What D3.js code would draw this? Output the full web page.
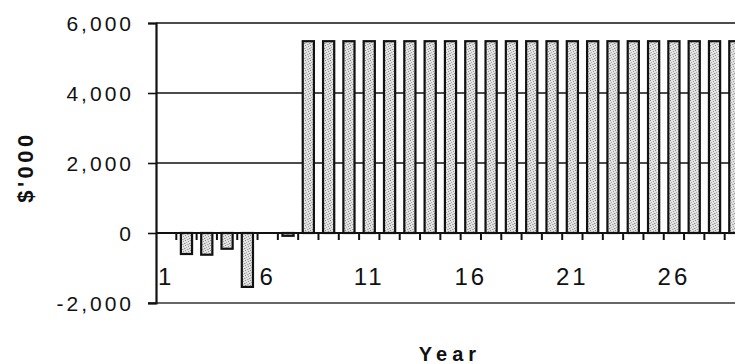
<!DOCTYPE html>
<html>
<head>
<meta charset="utf-8">
<script src="https://cdn.jsdelivr.net/npm/d3@7/dist/d3.min.js"></script>
<style>
  html, body { margin: 0; padding: 0; background: #fff; }
  svg { display: block; }
  text { font-family: "Liberation Sans", Arial, Helvetica, sans-serif; fill: #111; }
</style>
</head>
<body>
<svg id="chart" width="735" height="364"></svg>
<script>
// Annual cash flow by project year ($'000)
const years = [1, 2, 3, 4, 5, 6, 7, 8, 9, 10, 11, 12, 13, 14, 15,
               16, 17, 18, 19, 20, 21, 22, 23, 24, 25, 26, 27, 28, 29];
const cashFlow = [0, -600, -620, -450, -1540, 0, -80,
                  5480, 5480, 5480, 5480, 5480, 5480, 5480, 5480,
                  5480, 5480, 5480, 5480, 5480, 5480, 5480, 5480,
                  5480, 5480, 5480, 5480, 5480, 5480];
const yTicks = [-2000, 0, 2000, 4000, 6000];
const gridValues = [2000, 4000, 6000];
const labelledYears = [1, 6, 11, 16, 21, 26];

const data = years.map((yr, i) => ({ year: yr, value: cashFlow[i] }));

const svg = d3.select("#chart");
const plotLeft = 156, plotRight = 745, plotTop = 23, plotBottom = 303, frameEdge = 735;

const x = d3.scaleBand().domain(years).range([plotLeft, plotRight])
  .paddingInner(0.45).paddingOuter(0.225);
const y = d3.scaleLinear().domain([-2000, 6000]).range([plotBottom, plotTop]);

const fmt = d3.formatLocale({ decimal: ".", thousands: ",", grouping: [3], currency: ["$", ""], minus: "-" }).format(",");

// stippled grey fill for the bars (irregular dot tile)
const defs = svg.append("defs");
const pat = defs.append("pattern").attr("id", "stipple")
  .attr("patternUnits", "userSpaceOnUse").attr("width", 5).attr("height", 5);
pat.append("rect").attr("width", 5).attr("height", 5).attr("fill", "#e2e2e2");
const dots = [[0,0,"#8a8a8a"],[3,1,"#9c9c9c"],[1,2,"#b0b0b0"],[4,3,"#929292"],[2,4,"#a4a4a4"],[0,3,"#c2c2c2"],[3,4,"#bcbcbc"]];
pat.selectAll("rect.dot").data(dots).join("rect").attr("class", "dot")
  .attr("x", d => d[0]).attr("y", d => d[1]).attr("width", 1).attr("height", 1)
  .attr("fill", d => d[2]);

// horizontal grid lines and frame lines
svg.append("g").selectAll("line").data(gridValues).join("line")
  .attr("x1", plotLeft).attr("x2", frameEdge)
  .attr("y1", d => y(d)).attr("y2", d => y(d))
  .attr("stroke", "#111").attr("stroke-width", 1.6);
svg.append("line")
  .attr("x1", plotLeft - 8).attr("x2", frameEdge)
  .attr("y1", y(-2000)).attr("y2", y(-2000))
  .attr("stroke", "#333").attr("stroke-width", 1.6);

// y axis
const yAxis = svg.append("g").attr("transform", `translate(${plotLeft},0)`)
  .call(d3.axisLeft(y).tickValues(yTicks).tickFormat(fmt).tickSize(8).tickPadding(14));
yAxis.select(".domain").attr("stroke", "#111").attr("stroke-width", 2.2);
yAxis.selectAll(".tick line").attr("stroke", "#111").attr("stroke-width", 1.6);
yAxis.selectAll(".tick text")
  .attr("font-size", 21).attr("letter-spacing", "3px")
  .attr("fill", "#111").attr("dy", "0.36em")
  .style("font-family", "'Liberation Sans', Arial, sans-serif");

// bars
svg.append("g").selectAll("rect").data(data.filter(d => d.value !== 0)).join("rect")
  .attr("x", d => x(d.year))
  .attr("width", x.bandwidth())
  .attr("y", d => y(Math.max(0, d.value)))
  .attr("height", d => Math.abs(y(d.value) - y(0)))
  .attr("fill", "url(#stipple)")
  .attr("stroke", "#111").attr("stroke-width", 2.2);

// category axis along zero
const gap = (x.step() - x.bandwidth()) / 2;
svg.append("line")
  .attr("x1", plotLeft).attr("x2", frameEdge)
  .attr("y1", y(0)).attr("y2", y(0))
  .attr("stroke", "#111").attr("stroke-width", 2);
svg.append("g").selectAll("line").data(years.slice(1)).join("line")
  .attr("x1", d => x(d) - gap).attr("x2", d => x(d) - gap)
  .attr("y1", y(0)).attr("y2", y(0) + 7)
  .attr("stroke", "#111").attr("stroke-width", 2);

svg.append("g").selectAll("text").data(labelledYears).join("text")
  .attr("x", d => x(d) + x.bandwidth() / 2)
  .attr("y", 285)
  .attr("text-anchor", "middle")
  .attr("font-size", 24).attr("letter-spacing", "3px")
  .text(d => d);

// axis titles
svg.append("text")
  .attr("transform", "translate(33,167) rotate(-90)")
  .attr("text-anchor", "middle")
  .attr("font-size", 22).attr("font-weight", "bold").attr("letter-spacing", "3.5px")
  .text("$'000");

svg.append("text")
  .attr("x", 450).attr("y", 361)
  .attr("text-anchor", "middle")
  .attr("font-size", 20).attr("font-weight", "bold").attr("letter-spacing", "5px")
  .text("Year");
</script>
</body>
</html>
